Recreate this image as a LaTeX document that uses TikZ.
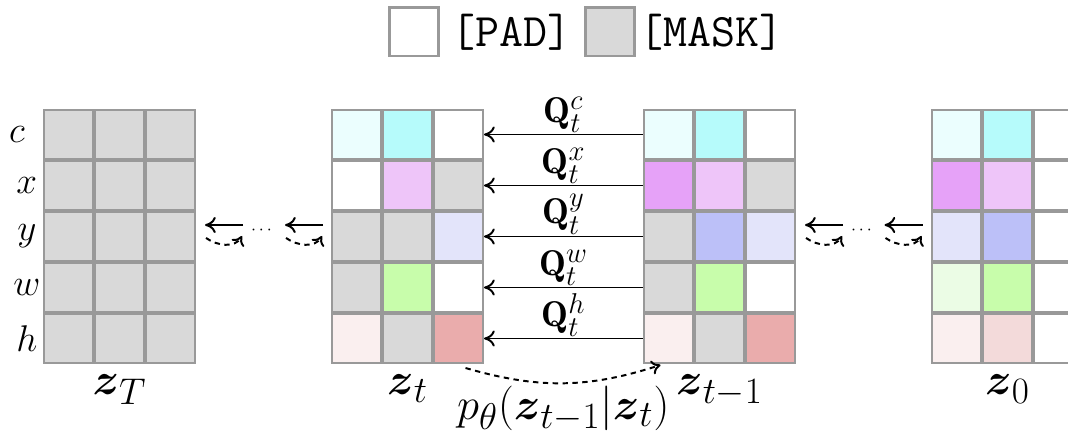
\RequirePackage{fix-cm}
\documentclass[tikz,border=0pt]{standalone}
\usepackage{amsmath}
\usepackage{amssymb}
\usepackage{fontspec}
\usepackage{tikz}
\usetikzlibrary{arrows.meta,positioning,calc}
\DeclareMathSizes{20}{20}{16}{12}
\definecolor{GridGray}{RGB}{153,153,153}
\definecolor{MaskGray}{RGB}{217,217,217}
\definecolor{CyanTint}{RGB}{235,254,254}
\definecolor{CyanMid}{RGB}{182,251,251}
\definecolor{VioletTint}{RGB}{238,197,249}
\definecolor{VioletMid}{RGB}{230,162,248}
\definecolor{LavTint}{RGB}{227,228,250}
\definecolor{BlueMid}{RGB}{188,192,248}
\definecolor{GreenMid}{RGB}{200,253,171}
\definecolor{GreenTint}{RGB}{235,252,229}
\definecolor{PinkTint}{RGB}{250,239,239}
\definecolor{PinkMid}{RGB}{243,218,218}
\definecolor{RoseMid}{RGB}{234,172,172}
\tikzset{
  cell/.style   ={rectangle, draw=GridGray, line width=1.2pt, minimum size=0.958cm, inner sep=0pt},
  rowlbl/.style ={font=\huge, inner sep=0pt, minimum width=0.62cm},
  zlbl/.style   ={font=\Huge, inner sep=1pt},
  qlbl/.style   ={font=\fontsize{20}{24}\selectfont, inner sep=0.3pt},
  keylbl/.style ={font=\fontsize{26}{30}\selectfont\ttfamily, inner sep=0pt},
  qarr/.style   ={-{Computer Modern Rightarrow[length=6pt,width=9pt]}, line width=1.1pt},
  darr/.style   ={-{Computer Modern Rightarrow[length=5pt,width=8pt]}, line width=1.1pt,
                  dash pattern=on 3pt off 2.5pt},
  backstep/.pic ={
    \draw[qarr] (19,0) -- (-19,0);
    \draw[darr] (-18,-13) to[out=-35,in=240] (18,-11);
  },
}

\begin{document}
\begin{tikzpicture}[x=0.019608cm, y=0.019608cm]
  \useasboundingbox (0,0) rectangle (1068,437);
  \clip (0,0) rectangle (1068,437);

  % key
  \node[cell, fill=white] (padkey) at (414,405) {};
  \node[keylbl, right=6.5pt of padkey] (padtxt) {[PAD]};
  \node[cell, fill=MaskGray] (maskkey) at (610,405) {};
  \node[keylbl, right=2pt of maskkey] (masktxt) {[MASK]};

  % z_T, fully masked
  \foreach \r/\dx [count=\i] in {c/-5.5pt,x/0pt,y/0pt,w/0pt,h/0pt}{
    \node[cell, fill=MaskGray] (zT-\r-1) at (68.5,{353.5-51*\i}) {};
    \node[cell, fill=MaskGray, right=0pt of zT-\r-1] (zT-\r-2) {};
    \node[cell, fill=MaskGray, right=0pt of zT-\r-2] (zT-\r-3) {};
    \node[rowlbl, left=0pt of zT-\r-1, xshift=\dx] (lbl-\r) {$\r$};
  }

  % z_t
  \foreach \r/\ca/\cb/\cc [count=\i] in {c/CyanTint/CyanMid/white, x/white/VioletTint/MaskGray,
      y/MaskGray/MaskGray/LavTint, w/MaskGray/GreenMid/white, h/PinkTint/MaskGray/RoseMid}{
    \node[cell, fill=\ca] (zt-\r-1) at (356.5,{353.5-51*\i}) {};
    \node[cell, fill=\cb, right=0pt of zt-\r-1] (zt-\r-2) {};
    \node[cell, fill=\cc, right=0pt of zt-\r-2] (zt-\r-3) {};
  }

  % z_{t-1}
  \foreach \r/\ca/\cb/\cc [count=\i] in {c/CyanTint/CyanMid/white, x/VioletMid/VioletTint/MaskGray,
      y/MaskGray/BlueMid/LavTint, w/MaskGray/GreenMid/white, h/PinkTint/MaskGray/RoseMid}{
    \node[cell, fill=\ca] (ztm-\r-1) at (668.5,{353.5-51*\i}) {};
    \node[cell, fill=\cb, right=0pt of ztm-\r-1] (ztm-\r-2) {};
    \node[cell, fill=\cc, right=0pt of ztm-\r-2] (ztm-\r-3) {};
  }

  % z_0
  \foreach \r/\ca/\cb [count=\i] in {c/CyanTint/CyanMid, x/VioletMid/VioletTint,
      y/LavTint/BlueMid, w/GreenTint/GreenMid, h/PinkTint/PinkMid}{
    \node[cell, fill=\ca] (z0-\r-1) at (956.5,{353.5-51*\i}) {};
    \node[cell, fill=\cb, right=0pt of z0-\r-1] (z0-\r-2) {};
    \node[cell, fill=white, right=0pt of z0-\r-2] (z0-\r-3) {};
  }

  % per-row transitions
  \foreach \r in {c,x,y,w,h}{
    \draw[qarr] (ztm-\r-1) -- (zt-\r-3) node[qlbl, midway, above] (q-\r) {$\mathbf{Q}_t^{\r}$};
  }

  % skipped steps
  \pic at (224,212) {backstep};
  \node (dotsL) at (263,206) {$\cdots$};
  \pic at (304,212) {backstep};
  \pic at (824,212) {backstep};
  \node (dotsR) at (863,206) {$\cdots$};
  \pic at (903.5,212) {backstep};

  % grid names
  \node[zlbl, below=5pt of zT-h-2] (nT) {$\boldsymbol{z}_T$};
  \node[zlbl, below=5pt of zt-h-2] (nt) {$\boldsymbol{z}_t$};
  \node[zlbl, below=5pt of ztm-h-2] (ntm) {$\boldsymbol{z}_{t-1}$};
  \node[zlbl, below=5pt of z0-h-2] (n0) {$\boldsymbol{z}_0$};

  \draw[darr] ($(zt-h-3.south)+(7,-4)$) to[bend right=17]
    node[zlbl, below=0pt] (pstep) {$p_\theta(\boldsymbol{z}_{t-1}|\boldsymbol{z}_t)$}
    ($(ztm-h-1.south)+(-8,-1)$);
\end{tikzpicture}
\end{document}
